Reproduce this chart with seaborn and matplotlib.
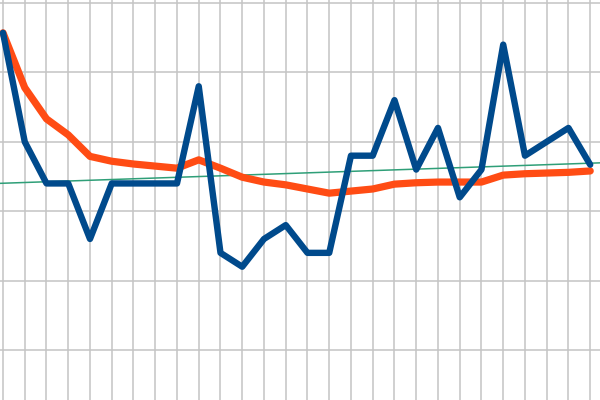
import matplotlib
matplotlib.use("Agg")
import matplotlib.pyplot as plt
import seaborn as sns
import numpy as np
import pandas as pd

# ---- data ----
periods = list(range(28))
values = [45.7, 30.0, 24.0, 24.0, 16.0, 24.0, 24.0, 24.0, 24.0, 38.0,
          14.0, 12.0, 16.0, 18.0, 14.0, 14.0, 28.0, 28.0, 36.0, 26.0,
          32.0, 22.0, 26.0, 44.0, 28.0, 30.0, 32.0, 26.7]
running_avg = [45.7, 37.8, 33.3, 31.0, 27.9, 27.2, 26.8, 26.5, 26.2, 27.4,
               26.2, 24.9, 24.2, 23.8, 23.2, 22.6, 22.9, 23.2, 23.9, 24.1,
               24.2, 24.2, 24.2, 25.2, 25.4, 25.5, 25.6, 25.8]
trend_intercept = 24.03
trend_slope = 0.107
y_ticks = [0, 10, 20, 30, 40, 50]

df = pd.DataFrame({"period": periods, "value": values, "avg": running_avg})

sns.set_style("white")
fig = plt.figure(figsize=(6, 4), dpi=100)
ax = fig.add_axes([0, 0, 1, 1])

xlim = (-0.138, 27.45)
ylim = (-7.2, 50.43)
ax.set_xlim(*xlim)
ax.set_ylim(*ylim)

# grid
ax.set_xticks(periods + [28])
ax.set_yticks(y_ticks)
ax.grid(True, color="#c4c4c4", linewidth=1.1)
ax.set_axisbelow(True)
ax.tick_params(length=0, labelbottom=False, labelleft=False)
for s in ax.spines.values():
    s.set_visible(False)

# trend line
tx = np.array(xlim)
trend_df = pd.DataFrame({"x": tx, "y": trend_intercept + trend_slope * tx})
sns.lineplot(data=trend_df, x="x", y="y", ax=ax, color="#2f9f78",
             linewidth=1.1, zorder=3)

sns.lineplot(data=df, x="period", y="avg", ax=ax, color="#ff4c14",
             linewidth=5.2, zorder=4, solid_joinstyle="round")
sns.lineplot(data=df, x="period", y="value", ax=ax, color="#004a8c",
             linewidth=4.6, zorder=5, solid_joinstyle="round")

ax.set_xlabel("")
ax.set_ylabel("")
ax.set_xlim(*xlim)
ax.set_ylim(*ylim)

fig.savefig("out.png", dpi=100)
